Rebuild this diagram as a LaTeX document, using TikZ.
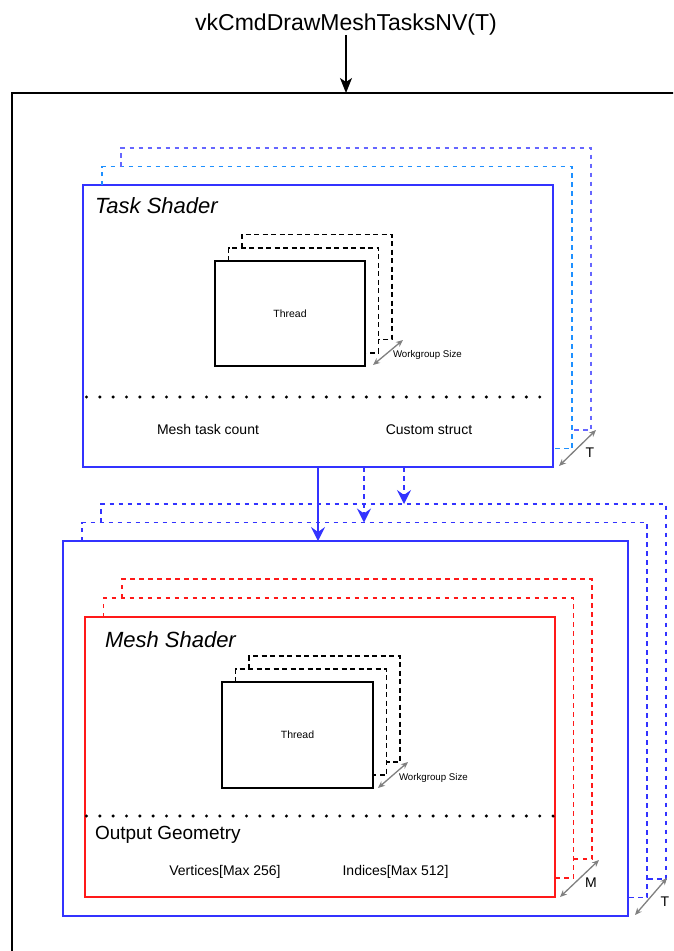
\documentclass[tikz,border=0pt]{standalone}
\usepackage{fontspec}
\setmainfont{Liberation Sans}
\usetikzlibrary{arrows.meta,positioning}

\definecolor{taskblue}{RGB}{51,51,255}
\definecolor{lightblue}{RGB}{30,144,255}
\definecolor{violetblue}{RGB}{102,102,255}
\definecolor{meshred}{RGB}{255,25,25}
\definecolor{sizegray}{RGB}{128,128,128}

\begin{document}
\begin{tikzpicture}[x=1pt, y=-1pt, >=Stealth,
  every node/.style={inner sep=0pt, outer sep=0pt},
  shaderbox/.style={draw, rectangle, line width=1.8pt},
  stackline/.style={line width=1.8pt, dash pattern=on 4.5pt off 4.5pt},
  threadbox/.style={draw=black, rectangle, line width=1.4pt, minimum width=150pt, minimum height=105pt, font=\fontsize{10.5}{12}\selectfont},
  threadstack/.style={line width=1.6pt, black, dash pattern=on 5pt off 3.5pt},
  dotline/.style={line width=3.4pt, line cap=round, dash pattern=on 0pt off 13.33pt},
  passarrow/.style={->, line width=1.6pt, taskblue, >={Stealth[length=14pt,width=14pt,inset=5pt]}},
  sizearrow/.style={<->, sizegray, line width=1.3pt, >={Stealth[length=7pt,width=6pt]}},
  lbl/.style={font=\fontsize{14}{16}\selectfont},
  shadertitle/.style={font=\fontsize{22}{26}\selectfont\itshape},
  grouplbl/.style={font=\fontsize{9.7}{11}\selectfont, anchor=west}
]
\useasboundingbox (0,0) rectangle (673,951);
\clip (0,0) rectangle (673,951);

% Draw call and device frame
\node[font=\fontsize{23}{27}\selectfont, anchor=base] (call) at (346,30) {vkCmdDrawMeshTasksNV(T)};
\node[draw, line width=1.5pt, anchor=north west, minimum width=700pt, minimum height=900pt] (device) at (12,93) {};
\draw[->, line width=1.4pt, >={Stealth[length=15pt,width=12pt,inset=4pt]}] (call.south) -- (call.south |- device.north);

\begin{scope}
  % Task shader stack
  \node[shaderbox, draw=taskblue, minimum width=470pt, minimum height=282pt] (task) at (318,326) {};
  \foreach \k/\c in {1/lightblue, 2/violetblue}
    \draw[stackline, \c] ({83+19*\k},{185-18.5*(\k-1)}) |- ({553+19*\k},{185-18.5*\k}) |- ({553+19*(\k-1)},{467-18.5*\k});
  \node[shadertitle, anchor=base west] (tasktitle) at (95,213) {Task Shader};

  % Threads
  \node[threadbox] (taskthread) at (290,313.5) {Thread};
  \foreach \k in {1,2}
    \draw[threadstack] ({215+13.5*\k},{261-13.3*(\k-1)}) |- ({365+13.5*\k},{261-13.3*\k}) |- ({365+13.5*(\k-1)},{366-13.3*\k});
  \coordinate (taskgroupa) at (373,365);
  \coordinate (taskgroupb) at (403,340);
  \draw[sizearrow] (taskgroupa) -- (taskgroupb);
  \node[grouplbl] (taskgroup) at (393,355) {Workgroup Size};

  % Output of the task shader
  \draw[dotline] (86.5,397) -- (553,397);
  \node[lbl, anchor=base] (taskcount) at (208,434) {Mesh task count};
  \node[lbl, anchor=base] (taskstruct) at (429,434) {Custom struct};
  \coordinate (taskTa) at (559,466);
  \coordinate (taskTb) at (596,430);
  \draw[sizearrow] (taskTa) -- (taskTb);
  \node[lbl] (taskT) at (590,453) {T};
\end{scope}

\begin{scope}
  % Mesh workgroups
  \node[shaderbox, draw=taskblue, minimum width=565pt, minimum height=375pt] (meshgroup) at (345.5,728.5) {};
  \foreach \k in {1,2}
    \draw[stackline, taskblue] ({63+19*\k},{541-18.5*(\k-1)}) |- ({628+19*\k},{541-18.5*\k}) |- ({628+19*(\k-1)},{916-18.5*\k});
  \coordinate (meshTa) at (635,915);
  \coordinate (meshTb) at (667,878);
  \draw[sizearrow] (meshTa) -- (meshTb);
  \node[lbl] (meshT) at (665,902) {T};

  % Mesh shader stack
  \node[shaderbox, draw=meshred, minimum width=470pt, minimum height=280pt] (mesh) at (320,757) {};
  \foreach \k in {1,2}
    \draw[stackline, meshred] ({85+18.5*\k},{617-19*(\k-1)}) |- ({555+18.5*\k},{617-19*\k}) |- ({555+18.5*(\k-1)},{897-19*\k});
  \node[shadertitle, anchor=base west] (meshtitle) at (105,647) {Mesh Shader};

  % Threads
  \node[threadbox, minimum width=151pt, minimum height=106pt] (meshthread) at (297.5,735) {Thread};
  \foreach \k in {1,2}
    \draw[threadstack] ({222+13.5*\k},{682-13*(\k-1)}) |- ({373+13.5*\k},{682-13*\k}) |- ({373+13.5*(\k-1)},{788-13*\k});
  \coordinate (meshgroupa) at (378,788);
  \coordinate (meshgroupb) at (408,762);
  \draw[sizearrow] (meshgroupa) -- (meshgroupb);
  \node[grouplbl] (meshgroupsize) at (399,778) {Workgroup Size};

  % Output geometry
  \draw[dotline] (86.5,816) -- (555,816);
  \node[font=\fontsize{19}{22}\selectfont, anchor=base west] (outgeo) at (95,839) {Output Geometry};
  \node[lbl, anchor=base] (verts) at (225,875) {Vertices[Max 256]};
  \node[lbl, anchor=base] (inds) at (395.5,875) {Indices[Max 512]};
  \coordinate (meshMa) at (560,897);
  \coordinate (meshMb) at (599,860);
  \draw[sizearrow] (meshMa) -- (meshMb);
  \node[lbl] (meshM) at (591,883) {M};
\end{scope}

% Task output into the mesh workgroups
\coordinate (taskout1) at (364,467);
\coordinate (taskout2) at (404,467);
\coordinate (meshback1) at (364,522.5);
\coordinate (meshback2) at (404,504);
\draw[passarrow] (task.south) -- (task.south |- meshgroup.north);
\draw[passarrow, dash pattern=on 4.5pt off 4.5pt] (taskout1) -- (meshback1);
\draw[passarrow, dash pattern=on 4.5pt off 4.5pt] (taskout2) -- (meshback2);
\end{tikzpicture}
\end{document}
